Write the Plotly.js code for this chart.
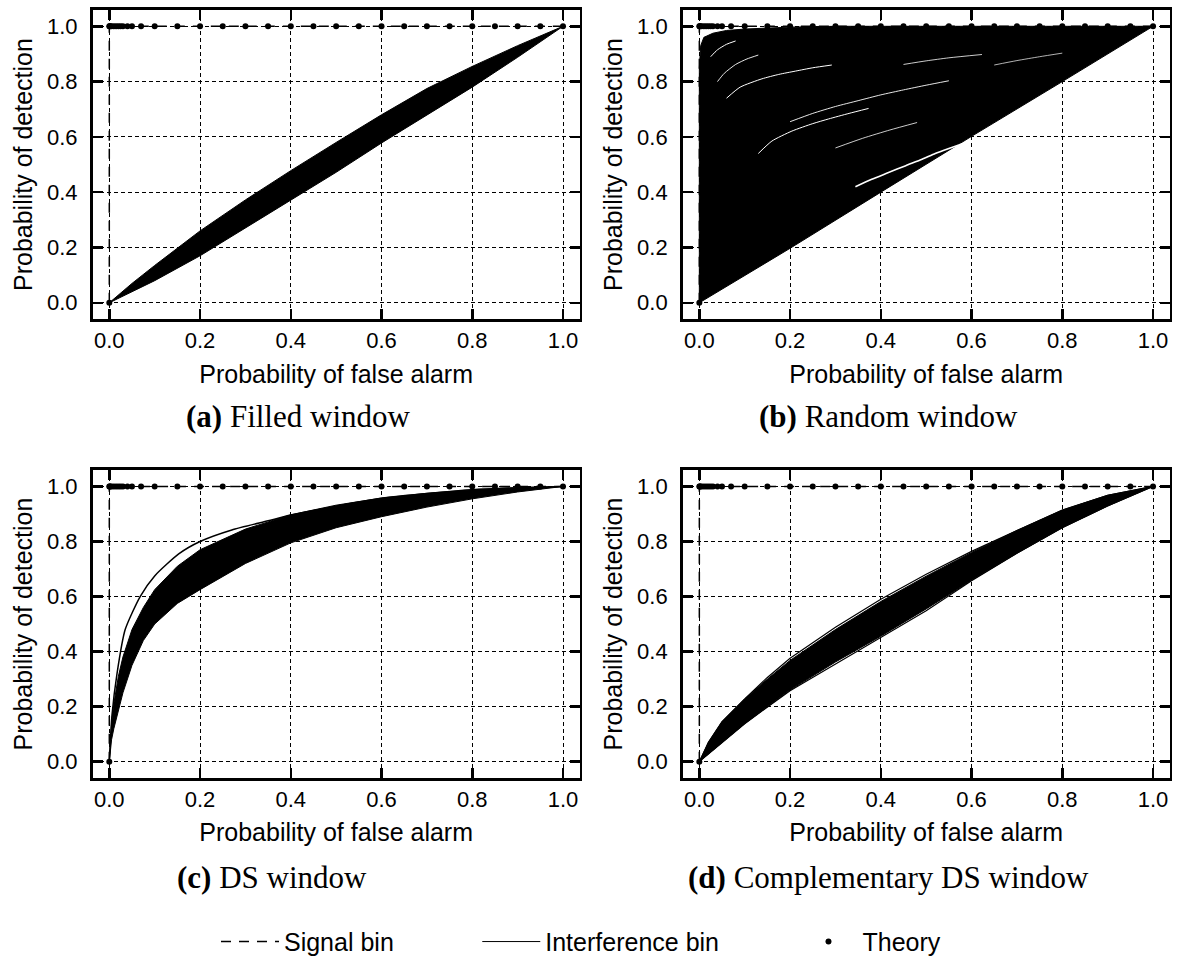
<!DOCTYPE html>
<html><head><meta charset="utf-8">
<script src="https://cdn.plot.ly/plotly-3.0.1.min.js"></script>
<style>html,body{margin:0;padding:0;background:#fff}#chart{width:1177px;height:965px}</style>
</head><body><div id="chart"></div>
<script>
// ---------- labels ----------
const tickVals = [0, 0.2, 0.4, 0.6, 0.8, 1.0];
const tickText = ['0.0', '0.2', '0.4', '0.6', '0.8', '1.0'];
const panelTags = ['(a)', '(b)', '(c)', '(d)'];
const panelNames = ['Filled window', 'Random window', 'DS window', 'Complementary DS window'];
const xLabel = 'Probability of false alarm';
const yLabel = 'Probability of detection';
const seriesNames = ['Signal bin', 'Interference bin', 'Theory'];

// ---------- signal bin (Pd = 1) ----------
const signalX = [0, 0, 1];
const signalY = [0, 1, 1];

// ---------- theory points ----------
const theoryX = [0, 0, 0.001, 0.002, 0.005, 0.01, 0.015, 0.02, 0.025, 0.03, 0.04, 0.05, 0.07, 0.1,
  0.15, 0.2, 0.25, 0.3, 0.35, 0.4, 0.45, 0.5, 0.55, 0.6, 0.65, 0.7, 0.75, 0.8, 0.85, 0.9, 0.95, 1.0];
const theoryY = [0, 1, 1, 1, 1, 1, 1, 1, 1, 1, 1, 1, 1, 1,
  1, 1, 1, 1, 1, 1, 1, 1, 1, 1, 1, 1, 1, 1, 1, 1, 1, 1];

// ---------- (a) filled window : envelope of interference-bin ROC curves ----------
const aUpperX = [0, 0.05, 0.1, 0.2, 0.3, 0.4, 0.5, 0.6, 0.7, 0.8, 0.9, 1.0];
const aUpperY = [0, 0.07, 0.135, 0.26, 0.372, 0.478, 0.58, 0.68, 0.775, 0.855, 0.93, 1.0];
const aLowerX = [0, 0.05, 0.1, 0.2, 0.3, 0.4, 0.5, 0.6, 0.7, 0.8, 0.9, 1.0];
const aLowerY = [0, 0.04, 0.08, 0.17, 0.27, 0.37, 0.472, 0.578, 0.68, 0.78, 0.888, 1.0];

// ---------- (b) random window ----------
const bUpperX = [0, 0, 0.003, 0.01, 0.03, 0.06, 0.1, 0.2, 0.3, 1.0];
const bUpperY = [0, 0.85, 0.93, 0.96, 0.975, 0.985, 0.99, 0.997, 1.0, 1.0];
const bLowerX = [0, 0.2, 0.4, 0.6, 0.8, 1.0];
const bLowerY = [0, 0.197, 0.4, 0.602, 0.8, 1.0];
// visible gaps between individual curves
const bGap1X = [0.344, 0.38, 0.417, 0.455, 0.491, 0.52, 0.55, 0.58];
const bGap1Y = [0.42, 0.447, 0.471, 0.496, 0.519, 0.54, 0.558, 0.575];
const bGap2X = [0.13, 0.16, 0.204, 0.25, 0.285, 0.33, 0.373];
const bGap2Y = [0.54, 0.585, 0.621, 0.648, 0.665, 0.685, 0.703];
const bGap3X = [0.06, 0.09, 0.138, 0.175, 0.212, 0.25, 0.292];
const bGap3Y = [0.74, 0.78, 0.81, 0.826, 0.838, 0.85, 0.86];
const bGap4X = [0.45, 0.5, 0.55, 0.623];
const bGap4Y = [0.862, 0.875, 0.886, 0.898];
const bGap5X = [0.2, 0.25, 0.3, 0.35, 0.4, 0.45, 0.5, 0.55];
const bGap5Y = [0.655, 0.685, 0.71, 0.731, 0.752, 0.77, 0.787, 0.803];
const bGap6X = [0.025, 0.04, 0.06, 0.08];
const bGap6Y = [0.89, 0.915, 0.935, 0.947];
const bGap7X = [0.04, 0.055, 0.08, 0.105, 0.13];
const bGap7Y = [0.8, 0.83, 0.862, 0.882, 0.896];
const bGap8X = [0.3, 0.36, 0.42, 0.48];
const bGap8Y = [0.56, 0.595, 0.625, 0.652];
const bGap9X = [0.65, 0.7, 0.75, 0.8];
const bGap9Y = [0.86, 0.876, 0.89, 0.903];

// ---------- (c) DS window ----------
const cUpperX = [0, 0.005, 0.01, 0.02, 0.03, 0.05, 0.075, 0.1, 0.15, 0.2, 0.3, 0.4, 0.5, 0.6, 0.7, 0.8, 0.9, 1.0];
const cUpperY = [0, 0.14, 0.21, 0.31, 0.38, 0.48, 0.56, 0.625, 0.71, 0.77, 0.845, 0.897, 0.932, 0.958, 0.975, 0.988, 0.996, 1.0];
const cLowerX = [0, 0.005, 0.01, 0.02, 0.03, 0.05, 0.075, 0.1, 0.15, 0.2, 0.3, 0.4, 0.5, 0.6, 0.7, 0.8, 0.9, 1.0];
const cLowerY = [0, 0.08, 0.12, 0.19, 0.25, 0.35, 0.44, 0.5, 0.575, 0.625, 0.72, 0.795, 0.85, 0.89, 0.925, 0.955, 0.98, 1.0];
const cTopX = [0, 0.006, 0.017, 0.035, 0.068, 0.1, 0.153, 0.2, 0.27, 0.35, 0.4, 0.6, 0.8, 1.0];
const cTopY = [0, 0.17, 0.32, 0.48, 0.6, 0.675, 0.755, 0.8, 0.842, 0.875, 0.896, 0.957, 0.988, 1.0];

// ---------- (d) complementary DS window ----------
const dUpperX = [0, 0.02, 0.05, 0.1, 0.15, 0.2, 0.3, 0.4, 0.5, 0.6, 0.7, 0.8, 0.9, 1.0];
const dUpperY = [0, 0.07, 0.145, 0.228, 0.3, 0.368, 0.48, 0.582, 0.674, 0.76, 0.84, 0.914, 0.968, 1.0];
const dLowerX = [0, 0.05, 0.1, 0.2, 0.3, 0.4, 0.5, 0.6, 0.7, 0.8, 0.9, 1.0];
const dLowerY = [0, 0.07, 0.138, 0.26, 0.362, 0.456, 0.555, 0.659, 0.757, 0.85, 0.929, 1.0];
const dTopX = [0, 0.02, 0.05, 0.1, 0.15, 0.2, 0.3, 0.4, 0.5, 0.6, 0.7, 0.8, 0.9, 1.0];
const dTopY = [0, 0.07, 0.145, 0.228, 0.306, 0.376, 0.488, 0.59, 0.681, 0.764, 0.84, 0.914, 0.968, 1.0];
const dBottomX = [0, 0.05, 0.1, 0.2, 0.3, 0.4, 0.5, 0.6, 0.7, 0.8, 0.9, 1.0];
const dBottomY = [0, 0.07, 0.138, 0.258, 0.355, 0.449, 0.548, 0.657, 0.757, 0.85, 0.929, 1.0];

// ---------- build ----------
const SANS = 'Liberation Sans, Arial, sans-serif';
const SERIF = 'Liberation Serif, Times New Roman, serif';
const traces = [];
function ax(k) { return k === 1 ? '' : String(k); }

function band(k, ux, uy, lx, ly, legend) {
  traces.push({x: ux, y: uy, xaxis: 'x' + ax(k), yaxis: 'y' + ax(k), mode: 'lines',
    line: {color: 'black', width: 1}, name: seriesNames[1],
    showlegend: !!legend, legend: 'legend2', hoverinfo: 'skip'});
  traces.push({x: lx, y: ly, xaxis: 'x' + ax(k), yaxis: 'y' + ax(k), mode: 'lines',
    line: {color: 'black', width: 1}, fill: 'tonexty', fillcolor: 'black',
    showlegend: false, hoverinfo: 'skip'});
}
function curve(k, x, y, color, w, smooth) {
  traces.push({x: x, y: y, xaxis: 'x' + ax(k), yaxis: 'y' + ax(k), mode: 'lines',
    line: smooth ? {color: color, width: w, shape: 'spline', smoothing: 0.6} : {color: color, width: w},
    showlegend: false, hoverinfo: 'skip'});
}

band(1, aUpperX, aUpperY, aLowerX, aLowerY, true);
band(2, bUpperX, bUpperY, bLowerX, bLowerY, false);
[[bGap1X, bGap1Y, 1.6], [bGap2X, bGap2Y, 1], [bGap3X, bGap3Y, 1], [bGap4X, bGap4Y, 0.8],
 [bGap5X, bGap5Y, 0.9], [bGap6X, bGap6Y, 1], [bGap7X, bGap7Y, 0.9], [bGap8X, bGap8Y, 0.8],
 [bGap9X, bGap9Y, 0.7]].forEach(g => curve(2, g[0], g[1], 'white', g[2], true));
band(3, cUpperX, cUpperY, cLowerX, cLowerY, false);
curve(3, cTopX, cTopY, 'black', 1.5, true);
band(4, dUpperX, dUpperY, dLowerX, dLowerY, false);
curve(4, dTopX, dTopY, 'black', 1.2, false);
curve(4, dBottomX, dBottomY, 'black', 1.2, false);

for (let k = 1; k <= 4; k++) {
  traces.push({x: signalX, y: signalY, xaxis: 'x' + ax(k), yaxis: 'y' + ax(k), mode: 'lines',
    line: {color: 'black', width: 1.5, dash: '10px,8px'}, name: seriesNames[0],
    showlegend: k === 1, legend: 'legend', hoverinfo: 'skip'});
  traces.push({x: theoryX, y: theoryY, xaxis: 'x' + ax(k), yaxis: 'y' + ax(k), mode: 'markers',
    marker: {color: 'black', size: 6}, name: seriesNames[2],
    showlegend: k === 1, legend: 'legend3', hoverinfo: 'skip'});
}

const colDom = [[0.0786, 0.4926], [0.5799, 0.9939]];
const rowDom = [[0.6680, 0.9899], [0.1911, 0.5115]];

function xaxis(k, dom) {
  return {domain: dom, anchor: 'y' + ax(k), range: [-0.037, 1.037],
    showline: true, linewidth: 2.5, linecolor: 'black', mirror: 'allticks',
    ticks: 'inside', ticklen: 10, tickwidth: 2.5, tickcolor: 'black',
    tickmode: 'array', tickvals: tickVals, ticktext: tickText,
    tickfont: {family: SANS, size: 22, color: 'black'},
    showgrid: true, gridcolor: 'black', gridwidth: 1, griddash: '4px,3px',
    zeroline: false, fixedrange: true, automargin: false,
    title: {text: xLabel, font: {family: SANS, size: 25, color: 'black'}, standoff: 13}};
}
function yaxis(k, dom) {
  return {domain: dom, anchor: 'x' + ax(k), range: [-0.06, 1.06],
    showline: true, linewidth: 2.5, linecolor: 'black', mirror: 'allticks',
    ticks: 'inside', ticklen: 10, tickwidth: 2.5, tickcolor: 'black',
    tickmode: 'array', tickvals: tickVals, ticktext: tickText,
    tickfont: {family: SANS, size: 22, color: 'black'}, ticklabelstandoff: 8,
    showgrid: true, gridcolor: 'black', gridwidth: 1, griddash: '4px,3px',
    zeroline: false, fixedrange: true, automargin: false,
    title: {text: yLabel, font: {family: SANS, size: 25, color: 'black'}, standoff: 8}};
}

const legBase = {orientation: 'h', y: 0.021, xanchor: 'left', yanchor: 'middle',
  font: {family: SANS, size: 25, color: 'black'}, bgcolor: 'rgba(0,0,0,0)', itemwidth: 58};
const layout = {
  width: 1177, height: 965, margin: {l: 0, r: 0, t: 0, b: 0},
  paper_bgcolor: 'white', plot_bgcolor: 'white',
  font: {family: SANS, color: 'black'},
  legend: Object.assign({}, legBase, {x: 0.1835}),
  legend2: Object.assign({}, legBase, {x: 0.4055}),
  legend3: Object.assign({}, legBase, {x: 0.675}),
  annotations: [
    {t: 0, x: 0.2532, y: 0.5668}, {t: 1, x: 0.7545, y: 0.5668},
    {t: 2, x: 0.2311, y: 0.0881}, {t: 3, x: 0.7545, y: 0.0881}
  ].map(a => ({text: '<b>' + panelTags[a.t] + '</b> ' + panelNames[a.t],
    x: a.x, y: a.y, xref: 'paper', yref: 'paper', xanchor: 'center', yanchor: 'middle',
    showarrow: false, font: {family: SERIF, size: 31, color: 'black'}}))
};
const pos = [[0, 0], [1, 0], [0, 1], [1, 1]];
for (let k = 1; k <= 4; k++) {
  layout['xaxis' + ax(k)] = xaxis(k, colDom[pos[k - 1][0]]);
  layout['yaxis' + ax(k)] = yaxis(k, rowDom[pos[k - 1][1]]);
}

Plotly.newPlot('chart', traces, layout, {staticPlot: true, displayModeBar: false});
</script></body></html>
